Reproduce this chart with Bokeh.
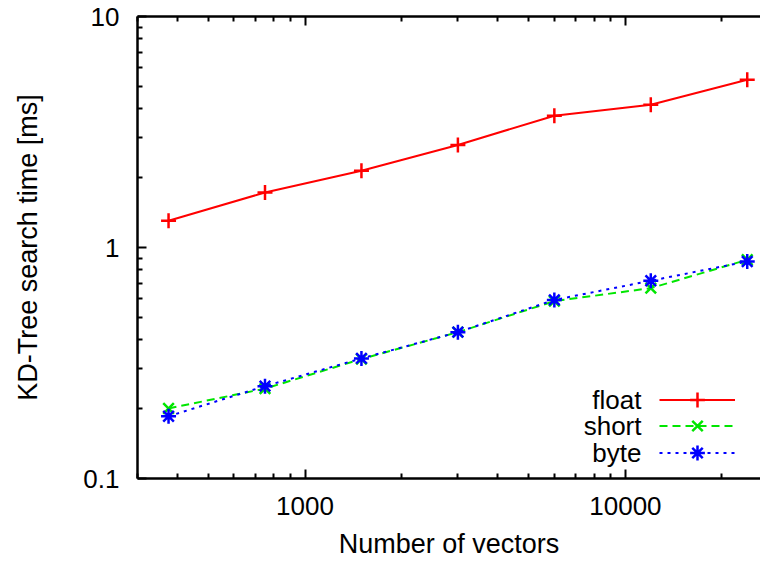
from bokeh.plotting import figure
from bokeh.models import (LogAxis, FixedTicker, CustomJSTickFormatter, Legend,
                          LegendItem, Label, Range1d)
from bokeh.embed import file_html
from bokeh.resources import INLINE

# ---- data ----
n_vectors = [375, 750, 1500, 3000, 6000, 12000, 24000]
float_ms = [1.305, 1.73, 2.15, 2.78, 3.72, 4.15, 5.32]
short_ms = [0.201, 0.245, 0.329, 0.430, 0.586, 0.667, 0.885]
byte_ms = [0.186, 0.251, 0.331, 0.430, 0.593, 0.718, 0.870]
series_names = ["float", "short", "byte"]

x_major_ticks = [1000, 10000]
y_major_ticks = [0.1, 1, 10]
mantissas = [2, 3, 4, 5, 6, 7, 8, 9]
x_minor_ticks = [m * d for d in (100, 1000, 10000) for m in mantissas]
y_minor_ticks = [m * d for d in (0.1, 1) for m in mantissas]

FONT = "Liberation Sans"
FS = "26px"
FS_TITLE = "27px"

p = figure(width=760, height=564, x_axis_type="log", y_axis_type="log",
           x_range=Range1d(300, 26400), y_range=Range1d(0.1, 10),
           output_backend="svg", toolbar_location=None,
           min_border_left=137, min_border_right=0, min_border_top=16, min_border_bottom=86)
p.grid.visible = False
p.outline_line_color = None
p.background_fill_color = "white"
p.border_fill_color = "white"

fmt = CustomJSTickFormatter(code="return String(Number(tick.toPrecision(6)))")
blank_fmt = CustomJSTickFormatter(code="return ''")

def style_axis(ax, ticks, minor, formatter):
    ax.ticker = FixedTicker(ticks=ticks, minor_ticks=minor)
    ax.formatter = formatter
    ax.axis_line_width = 2.5
    ax.axis_line_color = "black"
    ax.major_tick_in = 9
    ax.major_tick_out = 0
    ax.minor_tick_in = 5
    ax.minor_tick_out = 0
    ax.major_tick_line_width = 2
    ax.minor_tick_line_width = 2
    ax.major_tick_line_color = "black"
    ax.minor_tick_line_color = "black"
    ax.major_label_text_font = FONT
    ax.major_label_text_font_size = FS
    ax.major_label_text_color = "black"
    ax.axis_label_text_font = FONT
    ax.axis_label_text_font_size = FS_TITLE
    ax.axis_label_text_font_style = "normal"
    ax.axis_label_text_color = "black"

style_axis(p.xaxis[0], x_major_ticks, x_minor_ticks, fmt)
style_axis(p.yaxis[0], y_major_ticks, y_minor_ticks, fmt)
p.xaxis[0].axis_label = "Number of vectors"
p.xaxis[0].major_label_standoff = 18
p.xaxis[0].axis_label_standoff = 11
p.yaxis[0].axis_label = "KD-Tree search time [ms]"
p.yaxis[0].major_label_standoff = 18
p.yaxis[0].axis_label_standoff = 37

top = LogAxis()
style_axis(top, x_major_ticks, x_minor_ticks, blank_fmt)
top.major_label_standoff = 0
p.add_layout(top, "above")

colors = ["#ff0000", "#00e600", "#0000ff"]
dashes = ["solid", "8 5", "3 5"]
markers = ["cross", "x", "asterisk"]
values = [float_ms, short_ms, byte_ms]

# legend: sample on the right, name on the left (as in the reference)
GH = 37
for i, (name, vals, c, d, m) in enumerate(zip(series_names, values, colors, dashes, markers)):
    ln = p.line(n_vectors, vals, line_color=c, line_width=2, line_dash=d)
    sc = p.scatter(n_vectors, vals, marker=m, size=15, line_color=c, line_width=2.5,
                   fill_color=None)
    centre_from_bottom = 79 - 26.5 * i
    leg = Legend(items=[LegendItem(label=" ", renderers=[ln, sc])],
                 location=(522, centre_from_bottom - GH / 2), glyph_width=76, glyph_height=GH,
                 label_height=GH, label_width=0, label_standoff=0, spacing=0,
                 padding=0, margin=0, border_line_color=None, background_fill_alpha=0,
                 label_text_font_size="10px")
    p.add_layout(leg, "center")
    p.add_layout(Label(x=504, y=centre_from_bottom, x_units="screen", y_units="screen",
                       text=name, text_align="right", text_baseline="middle",
                       text_font=FONT, text_font_size=FS, text_color="black"))

open("out.html", "w").write(file_html(p, INLINE))
